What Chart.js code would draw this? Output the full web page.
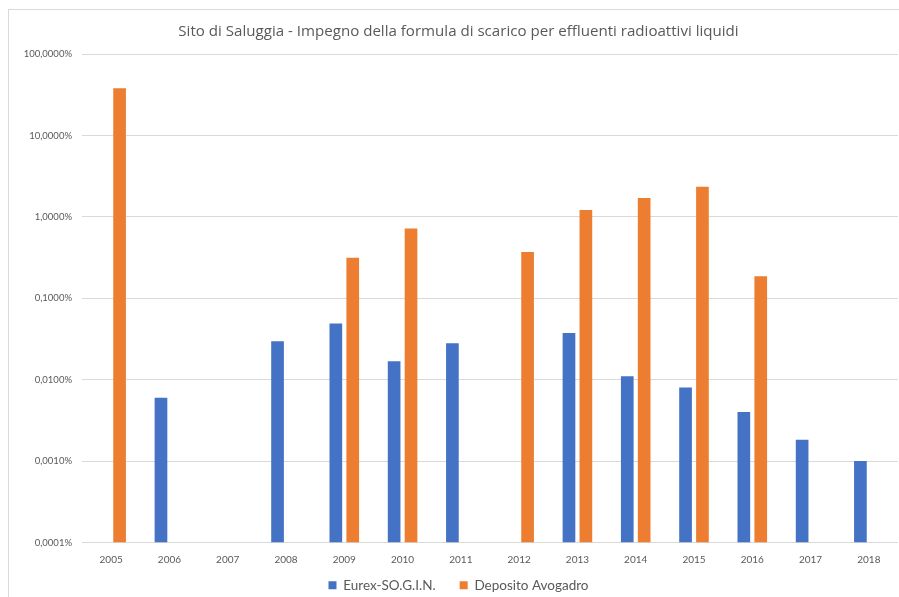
<!DOCTYPE html>
<html lang="it">
<head>
    <meta charset="UTF-8">
    <title>Sito di Saluggia</title>
    <style>
        body {
            margin: 0;
            background: #ffffff;
            overflow: hidden;
        }
        #frame {
            position: absolute;
            left: 8px;
            top: 9px;
            width: 920px;
            height: 640px;
            border: 1px solid #d9d9d9;
        }
        #wrap {
            position: absolute;
            left: 0;
            top: 0;
            width: 890px;
            height: 596px;
        }
    </style>
    <script src="https://cdn.jsdelivr.net/npm/chart.js"></script>
</head>
<body>
    <div id="frame">
        <div id="wrap"><canvas id="chart"></canvas></div>
    </div>

    <script>
        // anni
        const years = ['2005', '2006', '2007', '2008', '2009', '2010', '2011',
                       '2012', '2013', '2014', '2015', '2016', '2017', '2018'];

        // impegno formula di scarico, in %
        const eurex = [null, 0.0060, null, 0.0296, 0.0492, 0.0168, 0.0280,
                       null, 0.0374, 0.0110, 0.0080, 0.0040, 0.00183, 0.0010];
        const avogadro = [38.2, null, null, null, 0.316, 0.718, null,
                          0.371, 1.22, 1.71, 2.34, 0.186, null, null];

        const yTicks = [0.0001, 0.001, 0.01, 0.1, 1, 10, 100];

        const FONT = 'Lato, "Open Sans", sans-serif';
        const GREY = '#595959';

        new Chart(document.getElementById('chart'), {
            type: 'bar',
            data: {
                labels: years,
                datasets: [{
                    label: 'Eurex-SO.G.I.N.',
                    data: eurex,
                    backgroundColor: '#4472c4',
                    borderWidth: 0
                }, {
                    label: 'Deposito Avogadro',
                    data: avogadro,
                    backgroundColor: '#ed7d31',
                    borderWidth: 0
                }]
            },
            options: {
                responsive: true,
                maintainAspectRatio: false,
                animation: false,
                datasets: {
                    bar: {
                        categoryPercentage: 0.58,
                        barPercentage: 0.75
                    }
                },
                layout: {
                    padding: { left: 10, right: 1, top: 0, bottom: 4 }
                },
                scales: {
                    x: {
                        grid: { display: false, drawTicks: false },
                        border: { display: false },
                        // keep the axis box short, labels hang into the legend padding
                        afterFit: (scale) => {
                            scale.height = 12;
                            scale._computeLabelArea = () => null;
                        },
                        ticks: {
                            color: GREY,
                            font: { family: FONT, size: 10 },
                            padding: 11,
                            maxRotation: 0
                        }
                    },
                    y: {
                        type: 'logarithmic',
                        min: 0.0001,
                        max: 100,
                        afterBuildTicks: (scale) => {
                            scale.ticks = yTicks.map(v => ({ value: v, major: true }));
                        },
                        afterFit: (scale) => {
                            scale.width = 63;
                        },
                        grid: {
                            color: '#d9d9d9',
                            drawTicks: false
                        },
                        border: { display: false },
                        ticks: {
                            color: GREY,
                            font: { family: FONT, size: 9.5 },
                            padding: 10,
                            callback: (v) => v.toFixed(4).replace('.', ',') + '%'
                        }
                    }
                },
                plugins: {
                    title: {
                        display: true,
                        text: 'Sito di Saluggia - Impegno della formula di scarico per effluenti radioattivi liquidi',
                        color: GREY,
                        font: { family: '"Open Sans", sans-serif', size: 15.1, weight: 'normal' },
                        padding: { top: 13, bottom: 13 }
                    },
                    legend: {
                        position: 'bottom',
                        labels: {
                            color: GREY,
                            font: { family: FONT, size: 13.5 },
                            boxWidth: 8,
                            boxHeight: 8,
                            padding: 24
                        }
                    },
                    tooltip: { enabled: false }
                }
            }
        });
    </script>
</body>
</html>
